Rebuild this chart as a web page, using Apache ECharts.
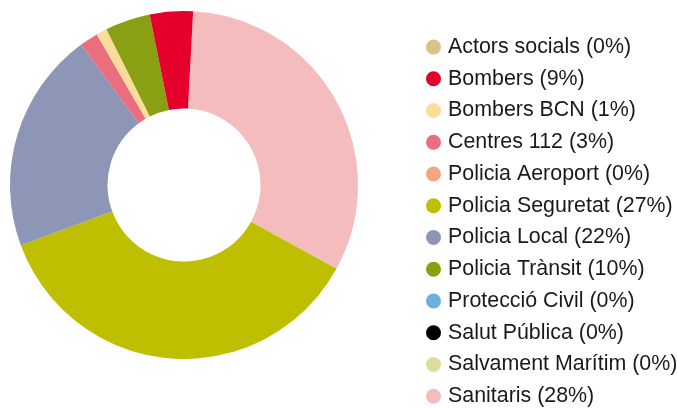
<!DOCTYPE html>
<html>
<head>
<meta charset="utf-8">
<script src="https://cdn.jsdelivr.net/npm/echarts@6/dist/echarts.min.js"></script>
<style>
  html, body { margin: 0; padding: 0; background: #fff; }
  #chart { width: 677px; height: 408px; }
</style>
</head>
<body>
<div id="chart"></div>
<script>
// legend order and labels as shown on the right
const legendNames = ['Actors socials', 'Bombers', 'Bombers BCN', 'Centres 112', 'Policia Aeroport',
  'Policia Seguretat', 'Policia Local', 'Policia Trànsit', 'Protecció Civil', 'Salut Pública',
  'Salvament Marítim', 'Sanitaris']
const legendPercents = [0, 9, 1, 3, 0, 27, 22, 10, 0, 0, 0, 28]
const legendColors = ['#d8c488', '#e4002b', '#fddc9a', '#eb6e80', '#f4a582',
  '#bdbf00', '#8e96b8', '#88a012', '#6cb0dc', '#000000', '#dcdd9a', '#f5bcbd']

// slices clockwise from the top, sizes (% of circle)
const sliceNames = ['Sanitaris', 'Policia Seguretat', 'Policia Local', 'Centres 112', 'Bombers BCN',
  'Policia Trànsit', 'Bombers', 'Actors socials', 'Policia Aeroport', 'Protecció Civil',
  'Salut Pública', 'Salvament Marítim']
const sliceValues = [32.2, 36.4, 20.6, 1.7, 1.0, 4.2, 4.0, 0, 0, 0, 0, 0]

const chart = echarts.init(document.getElementById('chart'))

const colorOf = name => legendColors[legendNames.indexOf(name)]

const option = {
  animation: false,
  legend: {
    orient: 'vertical',
    left: 421,
    top: 31.5,
    height: 390,
    icon: 'circle',
    itemWidth: 15,
    itemHeight: 15,
    itemGap: 10.75,
    data: legendNames,
    formatter: function (name) {
      return name + ' (' + legendPercents[legendNames.indexOf(name)] + '%)'
    },
    textStyle: {
      fontFamily: 'Liberation Sans',
      fontSize: 21.4,
      lineHeight: 21,
      color: '#1a1a1a',
      padding: [0, 0, 0, 2]
    }
  },
  series: [
    {
      type: 'pie',
      center: [184, 185],
      radius: [76.5, 174],
      startAngle: 87,
      clockwise: true,
      avoidLabelOverlap: false,
      label: { show: false },
      labelLine: { show: false },
      emphasis: { disabled: true },
      itemStyle: { borderWidth: 0, borderRadius: 0 },
      data: sliceNames.map((n, i) => ({
        name: n,
        value: sliceValues[i],
        itemStyle: { color: colorOf(n) }
      }))
    }
  ]
}

chart.setOption(option)
</script>
</body>
</html>
